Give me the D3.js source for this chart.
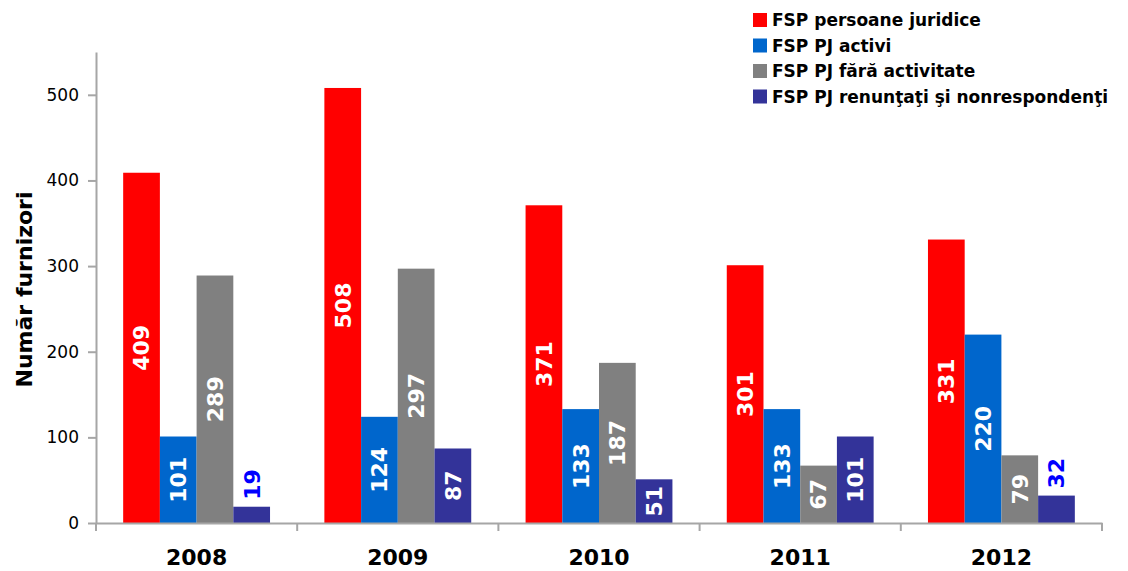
<!DOCTYPE html>
<html>
<head>
<meta charset="utf-8">
<script src="https://cdn.jsdelivr.net/npm/d3@7/dist/d3.min.js"></script>
<style>
    body { margin: 0; background: #fff; }
    text { font-family: 'DejaVu Sans', Verdana, sans-serif; }
</style>
</head>
<body>
<div id="container"></div>
<script>
// date
const years = ['2008', '2009', '2010', '2011', '2012'];
const seriesNames = [
    'FSP persoane juridice',
    'FSP PJ activi',
    'FSP PJ fără activitate',
    'FSP PJ renunţaţi şi nonrespondenţi'
];
const persoaneJuridice = [409, 508, 371, 301, 331];
const pjActivi = [101, 124, 133, 133, 220];
const pjFaraActivitate = [289, 297, 187, 67, 79];
const pjRenuntati = [19, 87, 51, 101, 32];
const yTicks = [0, 100, 200, 300, 400, 500];

const seriesValues = [persoaneJuridice, pjActivi, pjFaraActivitate, pjRenuntati];
const colors = ['#ff0000', '#0066cc', '#808080', '#333399'];

const width = 1128;
const height = 571;
const margin = {left: 96, right: 26, top: 52, bottom: 48};
const innerWidth = width - margin.left - margin.right;
const innerHeight = height - margin.top - margin.bottom;

const svg = d3.select('#container')
    .append('svg')
    .attr('width', width)
    .attr('height', height);
const g = svg.append('g')
    .attr('transform', `translate(${margin.left},${margin.top})`);

// scales
const x0 = d3.scaleBand().domain(years).range([0, innerWidth]).padding(0);
const x1 = d3.scaleBand().domain(seriesNames).range([0, x0.bandwidth()])
    .paddingInner(0).paddingOuter(0.74);
const y = d3.scaleLinear().domain([0, 550]).range([innerHeight, 0]);

// rows: one per year
const rows = years.map((yr, i) => ({
    year: yr,
    values: seriesNames.map((name, s) => ({name: name, s: s, value: seriesValues[s][i]}))
}));

const groups = g.selectAll('.year')
    .data(rows)
    .enter()
    .append('g')
    .attr('class', 'year')
    .attr('transform', d => `translate(${x0(d.year)},0)`);

groups.selectAll('rect')
    .data(d => d.values)
    .enter()
    .append('rect')
    .attr('x', d => x1(d.name))
    .attr('y', d => y(d.value))
    .attr('width', x1.bandwidth())
    .attr('height', d => innerHeight - y(d.value))
    .attr('fill', d => colors[d.s]);

// value labels, rotated; small bars get blue label above
groups.selectAll('.val')
    .data(d => d.values)
    .enter()
    .append('text')
    .attr('class', 'val')
    .attr('transform', d => {
        const cx = x1(d.name) + x1.bandwidth() / 2;
        const cy = d.value < 40 ? y(d.value) - 7 : (y(d.value) + innerHeight) / 2;
        return `translate(${cx},${cy}) rotate(-90)`;
    })
    .attr('text-anchor', d => d.value < 40 ? 'start' : 'middle')
    .attr('dy', '0.36em')
    .attr('font-size', 22)
    .attr('font-weight', 'bold')
    .attr('fill', d => d.value < 40 ? '#0000ff' : '#ffffff')
    .text(d => d.value);

// axes
const axisColor = '#a6a6a6';
const yAxisG = g.append('g')
    .call(d3.axisLeft(y).tickValues(yTicks).tickSize(8).tickPadding(9).tickSizeOuter(0));
const xAxisG = g.append('g')
    .attr('transform', `translate(0,${innerHeight})`)
    .call(d3.axisBottom(x0).tickSize(0).tickPadding(26).tickSizeOuter(0));

yAxisG.select('.domain').attr('stroke', axisColor).attr('stroke-width', 2);
yAxisG.selectAll('.tick line').attr('stroke', axisColor).attr('stroke-width', 2);
yAxisG.selectAll('.tick text')
    .attr('font-size', 17)
    .attr('font-family', "'DejaVu Sans', sans-serif")
    .attr('fill', '#000');

xAxisG.select('.domain').attr('stroke', axisColor).attr('stroke-width', 2);
xAxisG.selectAll('.tick text')
    .attr('font-size', 22)
    .attr('font-weight', 'bold')
    .attr('font-family', "'DejaVu Sans', sans-serif")
    .attr('fill', '#000');

// separators between years on the x axis
xAxisG.selectAll('.sep')
    .data(years.concat(['end']))
    .enter()
    .append('line')
    .attr('class', 'sep')
    .attr('x1', (d, i) => i * x0.step())
    .attr('x2', (d, i) => i * x0.step())
    .attr('y1', 0)
    .attr('y2', 8)
    .attr('stroke', axisColor)
    .attr('stroke-width', 2);

// y title
svg.append('text')
    .attr('transform', `translate(32,${margin.top + innerHeight / 2 + 2}) rotate(-90)`)
    .attr('text-anchor', 'middle')
    .attr('font-size', 22)
    .attr('font-weight', 'bold')
    .attr('fill', '#000')
    .text('Număr furnizori');

// legend
const legend = svg.append('g')
    .attr('transform', 'translate(753,20)');
const item = legend.selectAll('.item')
    .data(seriesNames)
    .enter()
    .append('g')
    .attr('class', 'item')
    .attr('transform', (d, i) => `translate(0,${i * 25.5})`);
item.append('rect')
    .attr('x', 0)
    .attr('y', -7)
    .attr('width', 14)
    .attr('height', 14)
    .attr('fill', (d, i) => colors[i]);
item.append('text')
    .attr('x', 19)
    .attr('dy', '0.36em')
    .attr('font-size', 17)
    .attr('font-weight', 'bold')
    .attr('fill', '#000')
    .text(d => d);
</script>
</body>
</html>
